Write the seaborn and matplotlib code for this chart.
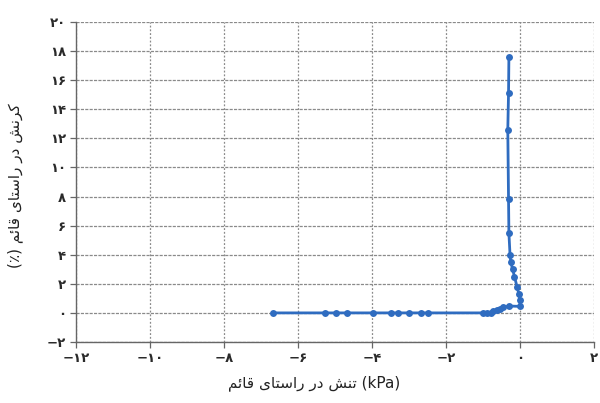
import matplotlib
matplotlib.use("Agg")
import matplotlib.pyplot as plt
import seaborn as sns
import pandas as pd

# Vertical stress (kPa) and vertical strain (%) along the loading path
stress = [-6.68, -5.27, -4.97, -4.68, -3.98, -3.49, -3.29, -2.99, -2.68, -2.48,
          -0.99, -0.88, -0.79, -0.72, -0.63, -0.55, -0.45, -0.30, 0.00, 0.00,
          -0.03, -0.08, -0.15, -0.20, -0.25, -0.27, -0.30, -0.31, -0.33, -0.31, -0.30]
strain = [0.0, 0.0, 0.0, 0.0, 0.0, 0.0, 0.0, 0.0, 0.0, 0.0,
          0.0, 0.0, 0.02, 0.15, 0.22, 0.30, 0.38, 0.47, 0.45, 0.90,
          1.30, 1.80, 2.50, 3.00, 3.50, 4.00, 5.50, 7.80, 12.6, 15.1, 17.6]

x_ticks = [-12, -10, -8, -6, -4, -2, 0, 2]
y_ticks = [-2, 0, 2, 4, 6, 8, 10, 12, 14, 16, 18, 20]

FA_DIGITS = str.maketrans("0123456789", "۰۱۲۳۴۵۶۷۸۹")


def fa_num(v):
    s = str(abs(v)).translate(FA_DIGITS)
    return ("\u2212" + s) if v < 0 else s


# Pre-shaped Persian labels (presentation forms, visual left-to-right order)
W_TANESH = "\uFEB6\uFEE8\uFE97"                          # تنش
W_DAR = "\uFEAD\uFEA9"                                   # در
W_RASTAYE = "\uFBFC\uFE8E\uFE98\uFEB3\uFE8D\uFEAD"       # راستای
W_GHAEM = "\uFEE2\uFE8B\uFE8E\uFED7"                     # قائم
W_KORNESH = "\uFEB6\uFEE7\uFEAE\uFB90"                   # کرنش

x_label = f"{W_GHAEM} {W_RASTAYE} {W_DAR} {W_TANESH} (kPa)"
y_label = f"(\u066A) {W_GHAEM} {W_RASTAYE} {W_DAR} {W_KORNESH}"

sns.set_theme(style="white")
plt.rcParams["font.family"] = ["DejaVu Sans", "Noto Sans"]

df = pd.DataFrame({"stress": stress, "strain": strain})

fig = plt.figure(figsize=(6.0, 4.03), dpi=100)
ax = fig.add_axes([0.1267, 0.1514, 0.8633, 0.794])

sns.lineplot(data=df, x="stress", y="strain", sort=False, estimator=None,
             color="#2f6cc0", linewidth=2.0, marker="o", markersize=5,
             markeredgewidth=0, ax=ax)

ax.set_xlim(-12, 2)
ax.set_ylim(-2, 20)
ax.set_xticks(x_ticks)
ax.set_yticks(y_ticks)
ax.set_xticklabels([fa_num(v) for v in x_ticks], fontsize=9.5,
                   fontweight="bold", color="#2a2a2a")
ax.set_yticklabels([fa_num(v) for v in y_ticks], fontsize=9.5,
                   fontweight="bold", color="#2a2a2a")

ax.set_axisbelow(True)
ax.xaxis.grid(True, linestyle=(0, (1.5, 1.5)), color="#8a8a8a", linewidth=0.9)
ax.yaxis.grid(True, linestyle=(0, (2.5, 1)), color="#8a8a8a", linewidth=0.9)

for side in ("top", "right"):
    ax.spines[side].set_visible(False)
for side in ("left", "bottom"):
    ax.spines[side].set_color("#666666")
    ax.spines[side].set_linewidth(1.0)

ax.tick_params(axis="both", direction="out", length=4, width=0.9,
               color="#666666", pad=3, bottom=True, left=True)

ax.set_xlabel(x_label, fontsize=11, color="#222222")
ax.xaxis.set_label_coords(0.46, -0.105)
ax.set_ylabel(y_label, fontsize=11, color="#222222")
ax.yaxis.set_label_coords(-0.102, 0.49)

fig.savefig("out.png", dpi=100)
